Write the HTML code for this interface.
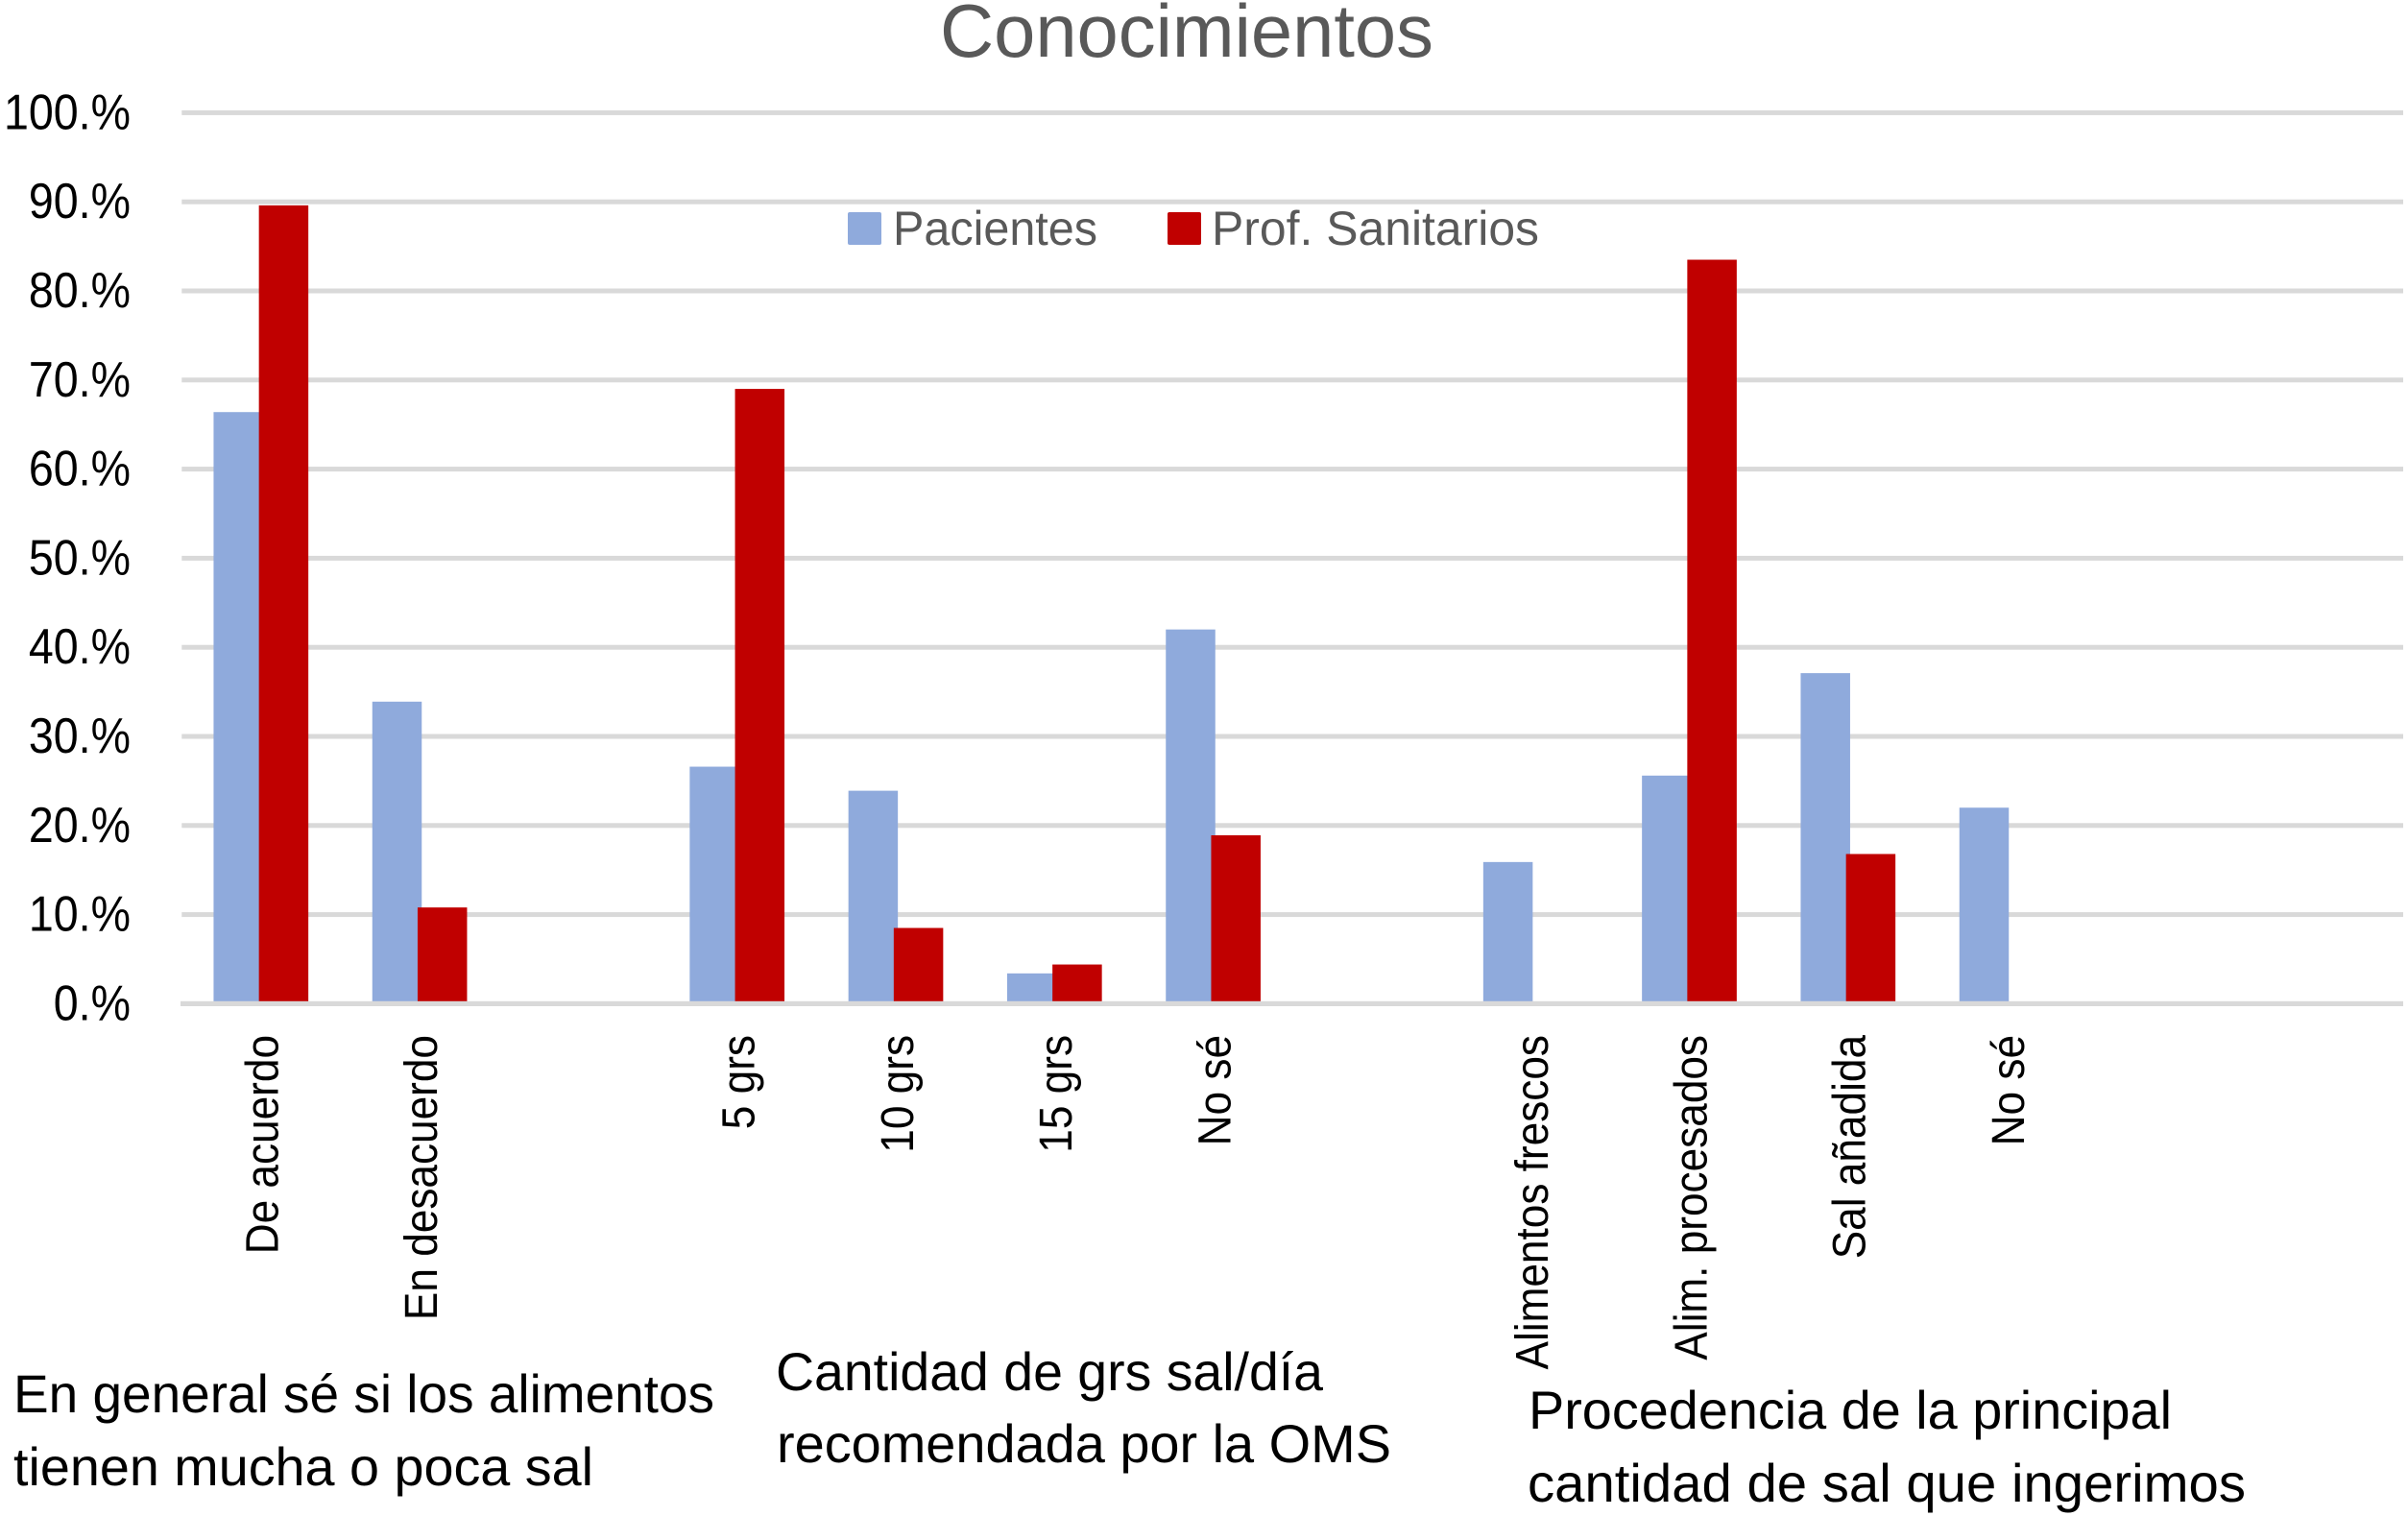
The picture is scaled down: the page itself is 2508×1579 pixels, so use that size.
<!DOCTYPE html>
<html lang="es">
<head>
<meta charset="utf-8">
<title>Conocimientos</title>
<style>
  html, body { margin: 0; padding: 0; background: #fff; }
  svg { display: block; font-family: "Liberation Sans", sans-serif; }
</style>
</head>
<body>
<svg id="chart" xmlns="http://www.w3.org/2000/svg" width="2508" height="1579" viewBox="0 0 2508 1579">
  <rect x="0" y="0" width="2508" height="1579" fill="#ffffff"/>
  <g id="grid"></g>
  <g id="bars"></g>
  <g id="axis"></g>
  <g id="yticks"></g>
  <g id="xlabels"></g>

  <text x="979" y="59" font-size="78" fill="#595959" textLength="514" lengthAdjust="spacingAndGlyphs">Conocimientos</text>

  <g>
    <g>
      <rect x="883" y="221" width="35" height="34" rx="2" fill="#8faadc"/>
      <text x="930" y="255" font-size="50" fill="#595959" textLength="213" lengthAdjust="spacingAndGlyphs">Pacientes</text>
    </g>
    <g>
      <rect x="1216" y="221" width="35" height="34" rx="2" fill="#c00000"/>
      <text x="1262" y="255" font-size="50" fill="#595959" textLength="341" lengthAdjust="spacingAndGlyphs">Prof. Sanitarios</text>
    </g>
  </g>

  <g>
    <text x="14" y="1471" font-size="56" fill="#000000" textLength="730" lengthAdjust="spacingAndGlyphs">En general sé si los alimentos</text>
    <text x="14" y="1547" font-size="56" fill="#000000" textLength="604" lengthAdjust="spacingAndGlyphs">tienen mucha o poca sal</text>
  </g>
  <g>
    <text x="808" y="1448" font-size="56" fill="#000000" textLength="570" lengthAdjust="spacingAndGlyphs">Cantidad de grs sal/día</text>
    <text x="809" y="1523" font-size="56" fill="#000000" textLength="640" lengthAdjust="spacingAndGlyphs">recomendada por la OMS</text>
  </g>
  <g>
    <text x="1592" y="1488" font-size="56" fill="#000000" textLength="670" lengthAdjust="spacingAndGlyphs">Procedencia de la principal</text>
    <text x="1591" y="1564" font-size="56" fill="#000000" textLength="748" lengthAdjust="spacingAndGlyphs">cantidad de sal que ingerimos</text>
  </g>
</svg>
<script>
const categories = ["De acuerdo", "En desacuerdo", "", "5 grs", "10 grs", "15 grs", "No sé", "", "Alimentos frescos", "Alim. procesados", "Sal añadida", "No sé", "", ""];
const pacientes = [66.4, 33.9, 0, 26.6, 23.9, 3.4, 42.0, 0, 15.9, 25.6, 37.1, 22.0, 0, 0];
const profSanitarios = [89.6, 10.8, 0, 69.0, 8.5, 4.4, 18.9, 0, 0, 83.5, 16.8, 0, 0, 0];
const yTicks = [0, 10, 20, 30, 40, 50, 60, 70, 80, 90, 100];
const yTickLabels = ["0.%", "10.%", "20.%", "30.%", "40.%", "50.%", "60.%", "70.%", "80.%", "90.%", "100.%"];

const NS = 'http://www.w3.org/2000/svg';
const plotLeft = 188.8, plotRight = 2503, y0 = 1045.4, y100 = 117.4;
const bandStep = (plotRight - plotLeft) / categories.length;
const barW = 51.5, barStep = 47.2, groupW = 98;

function yScale(v) { return y0 + (y100 - y0) * v / 100; }
function bandCenter(i) { return plotLeft + bandStep * (i + 0.5); }
function slug(s) { return s.toLowerCase().normalize('NFD').replace(/[^a-z0-9]+/g, '-'); }
function make(tag, attrs, parent) {
  const el = document.createElementNS(NS, tag);
  for (const k in attrs) el.setAttribute(k, attrs[k]);
  parent.appendChild(el);
  return el;
}
function squeeze(el, ratio) {
  el.setAttribute('textLength', (el.getComputedTextLength() * ratio).toFixed(1));
  el.setAttribute('lengthAdjust', 'spacingAndGlyphs');
}

const gridG = document.getElementById('grid');
const barsG = document.getElementById('bars');
const axisG = document.getElementById('axis');
const tickG = document.getElementById('yticks');
const labelG = document.getElementById('xlabels');

yTicks.forEach(function (t, i) {
  if (t !== 0) {
    const line = make('rect', { x: 189.3, y: yScale(t) - 2.5, width: plotRight - 189.3, height: 5, fill: '#d9d9d9' }, gridG);
    
    
  }
  const label = make('text', { x: 136, y: yScale(t) + 17, 'font-size': 52, fill: '#000000', 'text-anchor': 'end' }, tickG);
  label.textContent = yTickLabels[i];
  
  
  squeeze(label, 0.895);
});

categories.forEach(function (c, i) {
  if (!c) return;
  const left = bandCenter(i) - groupW / 2;
  const id = slug(c) + '-' + i;

  const blue = make('rect', { x: left, y: yScale(pacientes[i]), width: barW, height: Math.max(0, y0 - yScale(pacientes[i])), fill: '#8faadc' }, barsG);
  
  

  const red = make('rect', { x: left + barStep, y: yScale(profSanitarios[i]), width: barW, height: Math.max(0, y0 - yScale(profSanitarios[i])), fill: '#c00000' }, barsG);
  
  

  const bx = bandCenter(i) + 18.2;
  const text = make('text', { x: 0, y: 0, 'font-size': 48, fill: '#000000', 'text-anchor': 'end', transform: 'translate(' + bx + ',1078) rotate(-90)' }, labelG);
  text.textContent = c;
  
  
  squeeze(text, 0.92);
});

const axisLine = make('rect', { x: 188, y: y0 - 2.6, width: plotRight - 188, height: 5.2, fill: '#d9d9d9' }, axisG);


</script>
</body>
</html>
